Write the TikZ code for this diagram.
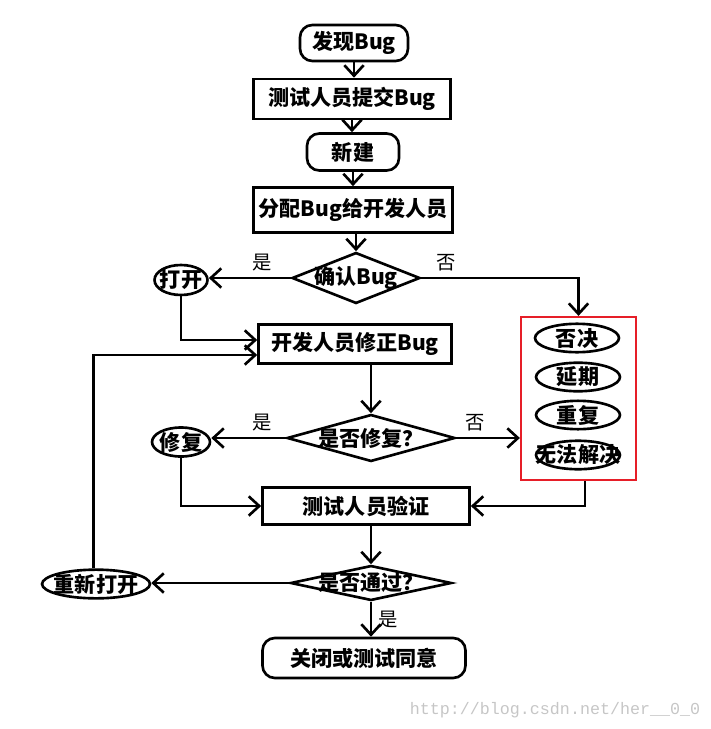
\documentclass[tikz,border=0pt]{standalone}
\usepackage{fontspec}
\setmainfont{Noto Sans CJK SC}
\setmonofont{Liberation Mono}
\usetikzlibrary{shapes.geometric,arrows.meta}
\definecolor{boxred}{RGB}{230,30,40}
\newcommand\fixw[1]{\makebox[0pt]{#1}}

\begin{document}
\begin{tikzpicture}[x=0.02cm, y=-0.02cm, line width=1.5pt,
  >={Straight Barb[length=6pt,width=11pt]},
  every node/.style={font=\fontsize{12}{14}\selectfont\bfseries},
  proc/.style={draw, rectangle, inner sep=0pt},
  term/.style={draw, rectangle, rounded corners=7pt, inner sep=0pt},
  choice/.style={draw, diamond, inner sep=0pt},
  oval/.style={draw, ellipse, inner sep=0pt},
  tag/.style={font=\fontsize{11}{13}\selectfont}]
  \useasboundingbox (0,0) rectangle (710,729);

  \node [term, minimum width=2.16cm, minimum height=0.72cm] (find)   at (354,43)  {发现Bug};
  \node [proc, minimum width=3.94cm, minimum height=0.8cm]  (submit) at (352,99)  {测试人员提交Bug};
  \node [term, minimum width=1.84cm, minimum height=0.74cm] (new)    at (353,152) {新建};
  \node [proc, minimum width=3.98cm, minimum height=0.9cm]  (assign) at (353,210) {分配Bug给开发人员};
  \node [choice, minimum width=2.56cm, minimum height=1.02cm] (confirm) at (356,278) {\fixw{确认Bug}};
  \node [oval, minimum width=1.06cm, minimum height=0.6cm]  (open)   at (181,280) {\fixw{打开}};
  \node [proc, minimum width=3.86cm, minimum height=0.78cm] (devfix) at (355,344) {开发人员修正Bug};
  \node [choice, minimum width=3.36cm, minimum height=0.94cm] (isfix) at (371,438) {\fixw{是否修复？}};
  \node [oval, minimum width=1.16cm, minimum height=0.58cm] (fixed)  at (181,442) {\fixw{修复}};

  \node [draw=boxred, line width=1.3pt, minimum width=2.3cm, minimum height=3.26cm, inner sep=0pt] (group) at (578.5,398.5) {};
  \node [oval, minimum width=1.68cm, minimum height=0.54cm] (reject)  at (577,338) {\fixw{否决}};
  \node [oval, minimum width=1.68cm, minimum height=0.54cm] (delay)   at (578,377) {\fixw{延期}};
  \node [oval, minimum width=1.68cm, minimum height=0.54cm] (dup)     at (578,415) {\fixw{重复}};
  \node [oval, minimum width=1.68cm, minimum height=0.54cm] (nofix)   at (578,455) {\fixw{无法解决}};

  \node [proc, minimum width=4.14cm, minimum height=0.74cm] (verify) at (366,506) {测试人员验证};
  \node [choice, minimum width=3.22cm, minimum height=0.7cm] (pass)  at (371,583) {\fixw{是否通过？}};
  \node [oval, minimum width=2.16cm, minimum height=0.56cm] (reopen) at (96,584)  {\fixw{重新打开}};
  \node [term, minimum width=4.06cm, minimum height=0.8cm]  (close)  at (364,658) {关闭或测试同意};
  \node [text=gray!45, font=\ttfamily\fontsize{9.5}{11}\selectfont] (mark) at (555,710) {http://blog.csdn.net/her\_\_0\_0};

  \draw [->] (find.south) -- (find.south |- submit.north);
  \draw [->] (submit.south) -- (submit.south |- new.north);
  \draw [->] (new.south) -- (new.south |- assign.north);
  \draw [->] (confirm.north |- assign.south) -- (confirm.north);
  \draw [->] (confirm.west) -- (confirm.west -| open.east) node [tag, pos=0.35, above] {是};
  \draw [->] (confirm.east) -| (group.north) node [tag, pos=0.08, above] {否};
  \draw [->] (open.south) |- ([yshift=0.08cm]devfix.west);
  \draw [->] (reopen.100) |- ([yshift=-0.22cm]devfix.west);
  \draw [->] (isfix.north |- devfix.south) -- (isfix.north);
  \draw [->] (isfix.west) -- (isfix.west -| fixed.east) node [tag, pos=0.32, above] {是};
  \draw [->] (isfix.east) -- (isfix.east -| group.west) node [tag, pos=0.3, above] {否};
  \draw [->] (fixed.south) |- (verify.west);
  \draw [->] ([xshift=0.13cm]group.south) |- (verify.east);
  \draw [->] (pass.north |- verify.south) -- (pass.north);
  \draw [->] (pass.west) -- (pass.west -| reopen.east);
  \draw [->] (pass.south) -- (pass.south |- close.north) node [tag, midway, right] {是};
\end{tikzpicture}
\end{document}
